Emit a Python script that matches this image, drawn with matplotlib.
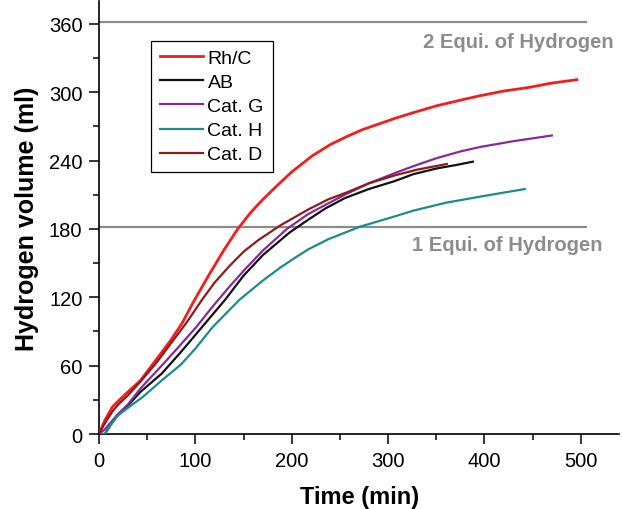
import matplotlib

matplotlib.use("Agg")
import matplotlib.pyplot as plt
from matplotlib.ticker import MultipleLocator

plt.rcParams["font.family"] = ["Liberation Sans", "DejaVu Sans"]

# values (time in min, volume in ml)
rh_t = [0, 6, 14, 20, 30, 43, 60, 75, 86, 98, 115, 130, 144, 157, 169, 186, 200,
        221, 240, 257, 273, 290, 307, 326, 350, 375, 396, 420, 445, 470, 496]
rh_v = [0, 12, 24, 29, 37, 47, 66, 83, 97, 116, 141, 162, 180, 194, 205, 219, 230,
        244, 254, 261, 267, 272, 277, 282, 288, 293, 297, 301, 304, 308, 311]

ab_t = [0, 6, 12, 19, 30, 43, 65, 85, 105, 131, 150, 170, 198, 217, 235, 255,
        280, 307, 326, 350, 370, 388]
ab_v = [0, 0, 8, 16, 25, 37, 53, 72, 92, 118, 139, 157, 177, 188, 198, 207,
        215, 222, 228, 233, 236, 239]

g_t = [0, 6, 12, 19, 30, 43, 65, 80, 101, 118, 136, 152, 170, 195, 217, 237,
       255, 280, 307, 326, 350, 375, 396, 430, 470]
g_v = [0, 4, 10, 17, 26, 40, 60, 74, 94, 112, 130, 145, 161, 180, 193, 202,
       210, 220, 229, 235, 242, 248, 252, 257, 262]

h_t = [0, 6, 12, 19, 30, 46, 65, 85, 100, 118, 146, 169, 188, 204, 217, 238,
       271, 307, 326, 360, 400, 442]
h_v = [0, 0, 8, 16, 23, 33, 47, 61, 75, 94, 118, 134, 146, 155, 162, 171,
       182, 191, 196, 203, 209, 215]

d_t = [0, 5, 14, 20, 30, 43, 60, 75, 91, 107, 120, 136, 150, 165, 188, 217,
       238, 257, 280, 307, 330, 361]
d_v = [0, 8, 20, 26, 34, 46, 63, 80, 98, 118, 133, 148, 160, 170, 183, 197,
       206, 212, 220, 227, 232, 237]

equi_levels = [182, 362]
equi_labels = ["1 Equi. of Hydrogen", "2 Equi. of Hydrogen"]

series = [
    ("Rh/C", rh_t, rh_v, "#f41c1c", 2.0),
    ("AB", ab_t, ab_v, "#111111", 1.6),
    ("Cat. G", g_t, g_v, "#862b96", 1.6),
    ("Cat. H", h_t, h_v, "#1a8c8a", 1.6),
    ("Cat. D", d_t, d_v, "#8a1c1c", 1.6),
]

fig = plt.figure(figsize=(6.23, 5.10), dpi=100)
ax = fig.add_axes([0.159, 0.147, 0.835, 0.849])

for label, t, v, color, lw in series:
    ax.plot(t, v, color=color, lw=lw, label=label, zorder=3)

gray = "#8c8c8c"
for level in equi_levels:
    ax.plot([0, 505], [level, level], color=gray, lw=1.6, zorder=2)
ax.text(534, 340, equi_labels[1], color=gray, fontsize=14.5, fontweight="bold",
        ha="right", va="baseline")
ax.text(523, 161.5, equi_labels[0], color=gray, fontsize=14.5, fontweight="bold",
        ha="right", va="baseline")

ax.set_xlim(0, 540)
ax.set_ylim(0, 380)
ax.xaxis.set_minor_locator(MultipleLocator(50))
ax.yaxis.set_minor_locator(MultipleLocator(30))
ax.set_xticks([0, 100, 200, 300, 400, 500])
ax.set_yticks([0, 60, 120, 180, 240, 300, 360])

ax.spines["top"].set_visible(False)
ax.spines["right"].set_visible(False)
for side in ("left", "bottom"):
    ax.spines[side].set_linewidth(1.2)
ax.tick_params(which="major", direction="out", length=7.5, width=1.1,
               labelsize=14.5, pad=4.5)
ax.tick_params(which="minor", direction="out", length=4.5, width=1.1)

ax.set_xlabel("Time (min)", fontsize=17, fontweight="bold", labelpad=11)
ax.set_ylabel("Hydrogen volume (ml)", fontsize=18, fontweight="bold", labelpad=7)

leg = ax.legend(loc="upper left", bbox_to_anchor=(0.1, 0.908), fontsize=14,
                fancybox=False, edgecolor="black", framealpha=1,
                handlelength=2.2, handletextpad=0.25, labelspacing=0.33,
                borderpad=0.45, borderaxespad=0)
leg.get_frame().set_linewidth(0.9)

fig.savefig("out.png", dpi=100)
